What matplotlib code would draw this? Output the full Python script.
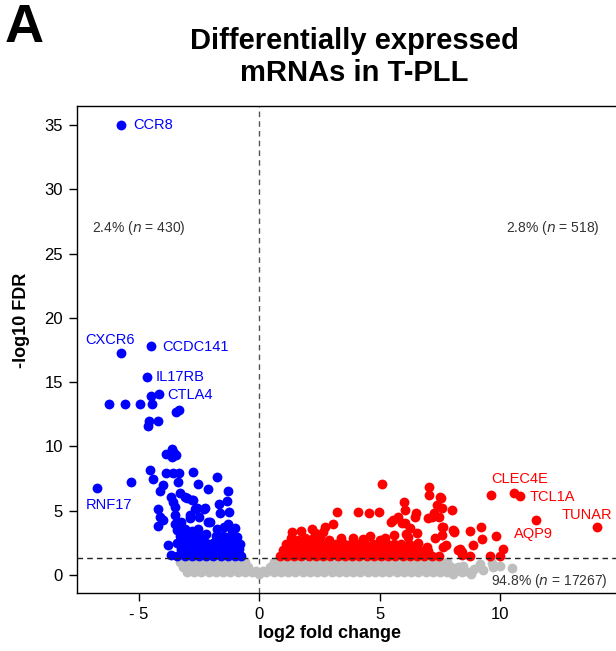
import matplotlib
matplotlib.use('Agg')
import matplotlib.pyplot as plt

plt.rcParams['font.family'] = ['Liberation Sans', 'DejaVu Sans']

# significant down (blue)
blue_x = [-5.73, -5.73, -4.5, -4.65, -4.16, -4.5,
          -6.25, -5.57, -4.96, -4.45, -3.47, -3.32, -4.56, -4.6, -4.22,
          -3.87, -3.6, -3.47, -3.62, -3.55,
          -6.75, -5.3, -4.54, -4.41, -3.87, -3.57, -3.32, -2.76, -1.74, -2.56,
          -2.12, -1.29, -3.98, -4.12, -3.29, -3.68, -3.01, -2.74, -1.35, -1.67,
          -3.57, -3.5, -2.67, -2.3, -4.19, -4.12, -4.22, -4.0, -1.24, -2.88,
          -2.05, -3.5, -3.78, -3.68, -3.36, -3.08, -2.8, -2.6, -2.25, -1.63,
          -3.5, -3.4, -2.88, -2.49, -2.12, -1.01, -0.94]
blue_y = [35.0, 17.3, 17.8, 15.4, 14.1, 13.9,
          13.3, 13.3, 13.3, 13.3, 12.65, 12.8, 12.0, 11.6, 12.0,
          9.4, 9.8, 9.3, 9.2, 9.5,
          6.74, 7.2, 8.2, 7.5, 7.9, 7.9, 7.9, 8.0, 7.6, 7.05,
          6.7, 6.5, 7.0, 6.5, 6.35, 6.1, 5.96, 5.8, 5.75, 5.5,
          5.7, 5.3, 5.1, 5.1, 5.13, 4.5, 3.8, 4.3, 4.9, 4.67,
          4.15, 4.0, 2.33, 1.55, 7.26, 6.1, 5.8, 5.2, 5.2, 4.8,
          4.67, 4.15, 4.4, 4.5, 4.15, 3.63, 2.98]

# dense blue mass just above the FDR line
blue_mass_x = [-3.4, -3.1, -2.8, -2.5, -2.2, -1.9, -1.6, -1.3, -1.0, -0.75,
               -3.25, -2.95, -2.65, -2.35, -2.05, -1.75, -1.45, -1.15, -0.85,
               -3.4, -3.1, -2.8, -2.5, -2.2, -1.9, -1.6, -1.3, -1.0, -0.8,
               -3.3, -3.0, -2.7, -2.4, -1.8, -1.5, -1.2, -0.95,
               -3.4, -3.1, -2.8, -1.75, -1.45, -1.15, -2.2, -2.55, -3.25, -1.3]
blue_mass_y = [1.5, 1.5, 1.5, 1.5, 1.5, 1.5, 1.5, 1.5, 1.5, 1.5,
               2.0, 2.0, 2.0, 2.0, 2.0, 2.0, 2.0, 2.0, 2.0,
               2.5, 2.5, 2.5, 2.5, 2.5, 2.5, 2.5, 2.5, 2.5, 2.4,
               3.0, 3.0, 3.0, 2.95, 3.0, 3.0, 3.0, 2.8,
               3.5, 3.55, 3.4, 3.6, 3.7, 3.5, 3.2, 3.6, 4.1, 4.0]

# significant up (red)
red_x = [5.08, 7.04, 7.04, 7.55, 6.0, 7.36, 7.6, 6.04, 4.11, 4.55,
         4.96, 3.24, 6.5, 7.98, 7.26, 7.18, 5.77, 6.46, 7.02, 6.05,
         7.57, 5.47, 5.56, 8.05, 6.53, 8.09, 7.29, 7.6, 7.73, 8.26,
         8.4, 6.95, 6.88, 6.6, 6.19, 5.91, 6.25, 7.61,
         1.37, 1.73, 2.2, 2.73, 3.07, 2.66, 2.31,
         9.6, 10.57, 10.82, 11.47, 14.0,
         7.51, 7.47, 8.08, 8.74, 9.19, 9.23, 9.82, 8.88, 10.12, 8.33,
         8.4, 8.74, 9.57, 9.99, 7.64]
red_y = [7.1, 6.85, 6.25, 5.96, 5.7, 5.44, 5.19, 5.03, 4.88, 4.8,
         4.88, 4.88, 4.85, 5.05, 4.8, 4.53, 4.53, 4.49, 4.41, 4.02,
         3.76, 4.15, 4.28, 3.5, 3.24, 3.32, 2.85, 3.11, 2.33, 1.94,
         1.55, 2.15, 1.63, 2.46, 2.98, 4.02, 3.63, 2.15,
         3.37, 3.45, 3.58, 3.7, 3.94, 3.32, 3.24,
         6.22, 6.35, 6.14, 4.28, 3.71,
         6.09, 4.53, 3.45, 3.45, 3.76, 2.78, 3.03, 2.33, 2.05, 2.0,
         1.81, 1.48, 1.48, 1.48, 3.76]

# dense red mass just above the FDR line
red_mass_x = [0.85, 1.15, 1.45, 1.75, 2.05, 2.35, 2.65, 2.95, 3.25, 3.55, 3.85,
              4.15, 4.45, 4.75, 5.05, 5.35, 5.65, 5.95, 6.25, 6.55, 6.85, 7.15, 7.45,
              1.0, 1.3, 1.6, 1.9, 2.2, 2.5, 2.8, 3.1, 3.4, 3.7, 4.0,
              4.3, 4.6, 4.9, 5.2, 5.5, 5.8, 6.1, 6.4, 6.7, 7.0,
              1.1, 1.4, 1.7, 2.0, 2.3, 2.6, 2.9, 3.2, 3.5, 3.8, 4.1,
              4.4, 4.7, 5.0, 5.3, 5.6, 5.9, 6.2, 6.5,
              1.3, 1.9, 2.5, 3.4, 3.9, 4.6, 5.2, 5.6, 6.1, 1.6, 2.2, 2.9, 4.3, 5.0]
red_mass_y = [1.5, 1.5, 1.5, 1.5, 1.5, 1.5, 1.5, 1.5, 1.5, 1.5, 1.5,
              1.5, 1.5, 1.5, 1.5, 1.5, 1.5, 1.5, 1.5, 1.5, 1.5, 1.5, 1.5,
              1.95, 1.95, 1.95, 1.95, 1.95, 1.95, 1.95, 1.95, 1.95, 1.95, 1.95,
              1.95, 1.95, 1.95, 1.95, 1.95, 1.95, 1.95, 1.95, 1.9, 1.85,
              2.4, 2.4, 2.4, 2.4, 2.4, 2.4, 2.4, 2.4, 2.4, 2.4, 2.4,
              2.4, 2.4, 2.4, 2.4, 2.4, 2.4, 2.4, 2.3,
              2.85, 2.9, 2.95, 2.85, 2.9, 3.0, 2.85, 3.1, 3.2, 2.75, 2.8, 2.75, 2.8, 2.7]

# non-significant (gray) band, three rows plus the sparse tail
gray_hi_x = [-3.3, -3.0, -2.7, -2.4, -2.1, -1.8, -1.5, -1.2, -0.9, -0.6,
             0.6, 0.9, 1.2, 1.5, 1.8, 2.1, 2.4, 2.7, 3.0, 3.3, 3.6, 3.9, 4.2,
             4.5, 4.8, 5.1, 5.4, 5.7, 6.0, 6.3, 6.6, 6.9, 7.2, 7.5, 7.8]
gray_mid_x = [-3.15, -2.85, -2.55, -2.25, -1.95, -1.65, -1.35, -1.05, -0.75, -0.45,
              0.45, 0.75, 1.05, 1.35, 1.65, 1.95, 2.25, 2.55, 2.85, 3.15, 3.45,
              3.75, 4.05, 4.35, 4.65, 4.95, 5.25, 5.55, 5.85, 6.15, 6.45, 6.75,
              7.05, 7.35, 7.65, 7.95, 8.25]
gray_lo_x = [-3.0, -2.7, -2.4, -2.1, -1.8, -1.5, -1.2, -0.9, -0.6, -0.3,
             0.3, 0.6, 0.9, 1.2, 1.5, 1.8, 2.1, 2.4, 2.7, 3.0, 3.3, 3.6, 3.9,
             4.2, 4.5, 4.8, 5.1, 5.4, 5.7, 6.0, 6.3, 6.6, 6.9, 7.2, 7.5, 7.8,
             8.1, 8.4, 8.7]
gray_levels = [1.05, 0.65, 0.25]
gray_extra_x = [0.0, -0.15, 0.15, 8.05, 8.8, 8.47, 9.16, 9.64, 9.7, 10.0, 10.5, 8.9, 9.3]
gray_extra_y = [0.1, 0.3, 0.3, 0.08, 0.1, 0.7, 0.86, 0.9, 0.6, 0.7, 0.57, 0.45, 0.4]

# gene labels (text position)
lab_blue = ['CCR8', 'CXCR6', 'CCDC141', 'IL17RB', 'CTLA4', 'RNF17']
lab_blue_x = [-5.24, -7.23, -4.04, -4.3, -3.8, -7.19]
lab_blue_y = [35.0, 18.27, 17.73, 15.4, 14.02, 5.44]
lab_red = ['CLEC4E', 'TCL1A', 'TUNAR', 'AQP9']
lab_red_x = [9.61, 11.23, 12.55, 10.58]
lab_red_y = [7.44, 6.07, 4.67, 3.19]

fdr_cut = 1.3
S = 50

fig = plt.figure(figsize=(6.16, 6.51), dpi=100)
ax = fig.add_axes([0.125, 0.089, 0.875, 0.748])

gx = gray_hi_x + gray_mid_x + gray_lo_x + gray_extra_x
gy = ([gray_levels[0]] * len(gray_hi_x) + [gray_levels[1]] * len(gray_mid_x)
      + [gray_levels[2]] * len(gray_lo_x) + gray_extra_y)
ax.scatter(gx, gy, s=S, color='#bebebe', linewidths=0, zorder=2)
ax.scatter(blue_mass_x + blue_x, blue_mass_y + blue_y, s=S, color='#0000ff',
           linewidths=0, zorder=3)
ax.scatter(red_mass_x + red_x, red_mass_y + red_y, s=S, color='#ff0000',
           linewidths=0, zorder=3)

ax.axvline(0, color='#555555', lw=1, ls=(0, (4, 3)), zorder=1)
ax.axhline(fdr_cut, color='#222222', lw=1, ls=(0, (4, 3)), zorder=4)

for t, x, y in zip(lab_blue, lab_blue_x, lab_blue_y):
    ax.text(x, y, t, color='#0000ff', fontsize=10.5, ha='left', va='center')
for t, x, y in zip(lab_red, lab_red_x, lab_red_y):
    ax.text(x, y, t, color='#ff0000', fontsize=10.5, ha='left', va='center')

ax.text(-6.95, 27, '2.4% ($\\it{n}$ = 430)', fontsize=10, color='#333333',
        ha='left', va='center')
ax.text(14.14, 27, '2.8% ($\\it{n}$ = 518)', fontsize=10, color='#333333',
        ha='right', va='center')
ax.text(14.43, -0.47, '94.8% ($\\it{n}$ = 17267)', fontsize=10, color='#333333',
        ha='right', va='center')

ax.set_xlim(-7.56, 14.8)
ax.set_ylim(-1.4, 36.47)
ax.set_xticks([-5, 0, 5, 10])
ax.set_xticklabels(['- 5', '0', '5', '10'])
ax.set_yticks([0, 5, 10, 15, 20, 25, 30, 35])
ax.tick_params(labelsize=12, length=6, width=1, direction='out', pad=4)
ax.spines['right'].set_visible(False)
for sp in ['left', 'bottom', 'top']:
    ax.spines[sp].set_linewidth(1)

fig.text(329 / 616, 1 - 633 / 651, 'log2 fold change', fontsize=13,
         fontweight='bold', ha='center', va='center')
fig.text(22 / 616, 1 - 320 / 651, '-log10 FDR', fontsize=13,
         fontweight='bold', ha='center', va='center', rotation=90)
fig.text(354 / 616, 1 - 57 / 651, 'Differentially expressed\nmRNAs in T-PLL',
         fontsize=21, fontweight='bold', ha='center', va='center', linespacing=1.2)
fig.text(5 / 616, 1 - 28 / 651, 'A', fontsize=39, fontweight='bold',
         ha='left', va='center')

fig.savefig('out.png', dpi=100)
